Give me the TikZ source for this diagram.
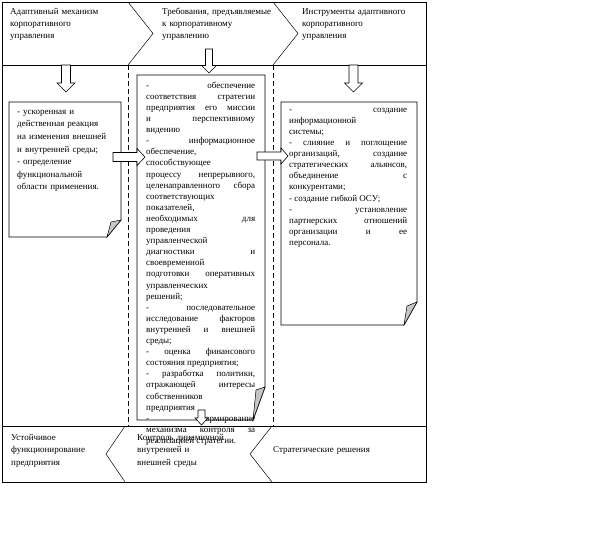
\documentclass[tikz,border=0pt]{standalone}
\usepackage{fontspec}
\setmainfont{Liberation Serif}

\begin{document}
\begin{tikzpicture}[x=1pt, y=-1pt,
	every node/.style={inner sep=0pt, anchor=north west},
	hd/.style={align=left, text width=125pt, font=\fontsize{9}{12.3}\selectfont, execute at begin node=\strut},
	ft/.style={align=left, text width=125pt, font=\fontsize{9}{12.5}\selectfont, execute at begin node=\strut},
	lst/.style={align=left, font=\fontsize{9}{12.6}\selectfont, execute at begin node=\strut},
	txt/.style={align=justify, font=\fontsize{9}{11.1}\selectfont, execute at begin node={\tolerance=10000 \hbadness=10000 \strut}},
	ln/.style={line width=0.5pt},
	frm/.style={line width=0.9pt},
	sep/.style={line width=0.6pt, dash pattern=on 5pt off 3pt},
	doc/.style={draw, line width=0.8pt, fill=white},
	fold/.style={draw, line width=0.5pt, fill=gray!45},
	barr/.style={draw, line width=0.6pt, fill=white}]
	\useasboundingbox (0,0) rectangle (602,539);
	% frame and bands
	\draw[frm] (2,2) rectangle (426,482);
	\draw[frm] (2,65) -- (426,65);
	\draw[frm] (2,426) -- (426,426);
	\draw[sep] (128,65) -- (128,426);
	\draw[sep] (273,65) -- (273,426);
	\draw[ln] (128,2) -- (153,33.5) -- (128,65);
	\draw[ln] (273,2) -- (298,33.5) -- (273,65);
	\draw[ln] (125,426) -- (106,454) -- (125,482);
	\draw[ln] (272,426) -- (250,454) -- (272,482);
	% documents
	\draw[doc] (9,102) -- (121,102) -- (121,220) -- (107,237) -- (9,237) -- cycle;
	\draw[fold] (107,237) -- (111,222) -- (121,220) -- cycle;
	\draw[doc] (137,75) -- (265,75) -- (265,387) -- (253,420) -- (137,420) -- cycle;
	\draw[fold] (253,420) -- (256,390) -- (265,387) -- cycle;
	\draw[doc] (281,102) -- (417,102) -- (417,302) -- (404,325) -- (281,325) -- cycle;
	\draw[fold] (404,325) -- (407,306) -- (417,302) -- cycle;
	% headers
	\node[hd] (head1) at (10,5.5) {Адаптивный механизм\\корпоративного\\управления};
	\node[hd] (head2) at (162,5.5) {Требования, предъявляемые\\к корпоративному\\управлению};
	\node[hd] (head3) at (302,5.5) {Инструменты адаптивного\\корпоративного\\управления};
	% document texts
	\node[lst, text width=105pt] (reaction) at (17,105.3) {- ускоренная и\\действенная реакция\\на изменения внешней\\и внутренней среды;\\- определение\\функциональной\\области применения.};
	\node[txt, text width=109pt] (demands) at (146,80.3) {- обеспечение\linebreak соответствия стратегии\linebreak предприятия его миссии\linebreak и перспективному\linebreak видению\\- информационное\linebreak обеспечение,\\способствующее\\процессу непрерывного,\linebreak целенаправленного сбора\linebreak соответствующих\\показателей,\\необходимых для\linebreak проведения\\управленческой\\диагностики и\linebreak своевременной\\подготовки оперативных\linebreak управленческих\\решений;\\- последовательное\linebreak исследование факторов\linebreak внутренней и внешней\linebreak среды;\\- оценка финансового\linebreak состояния предприятия;\\- разработка политики,\linebreak отражающей интересы\linebreak собственников\\предприятия\\- формирование\linebreak механизма контроля за\linebreak реализацией стратегии.};
	\node[txt, text width=118pt] (tools) at (289,104.3) {- создание\linebreak информационной\\системы;\\- слияние и поглощение\linebreak организаций, создание\linebreak стратегических альянсов,\linebreak объединение с\linebreak конкурентами;\\- создание гибкой ОСУ;\\- установление\linebreak партнерских отношений\linebreak организации и ее\linebreak персонала.};
	% results
	\node[ft] (foot1) at (11,431.4) {Устойчивое\\функционирование\\предприятия};
	\node[ft] (foot2) at (137,431.4) {Контроль динамичной\\внутренней и\\внешней среды};
	\node[ft] (foot3) at (273,443.4) {Стратегические решения};
	% block arrows
	\draw[barr] (61.5,65) -- (70.5,65) -- (70.5,83) -- (75,83) -- (66,92) -- (57,83) -- (61.5,83) -- cycle;
	\draw[barr] (205.5,49) -- (212.5,49) -- (212.5,65.5) -- (216.5,65.5) -- (209,73) -- (201.5,65.5) -- (205.5,65.5) -- cycle;
	\draw[barr] (349,65) -- (358,65) -- (358,83) -- (362.5,83) -- (353.5,92) -- (344.5,83) -- (349,83) -- cycle;
	\draw[barr] (198,410) -- (205,410) -- (205,418) -- (208,418) -- (201.5,425) -- (195,418) -- (198,418) -- cycle;
	\draw[barr] (113,152.5) -- (137,152.5) -- (137,148.5) -- (145,157) -- (137,165.5) -- (137,161.5) -- (113,161.5) -- cycle;
	\draw[barr] (257,152) -- (281,152) -- (281,148) -- (288,156) -- (281,164) -- (281,160) -- (257,160) -- cycle;
\end{tikzpicture}
\end{document}
